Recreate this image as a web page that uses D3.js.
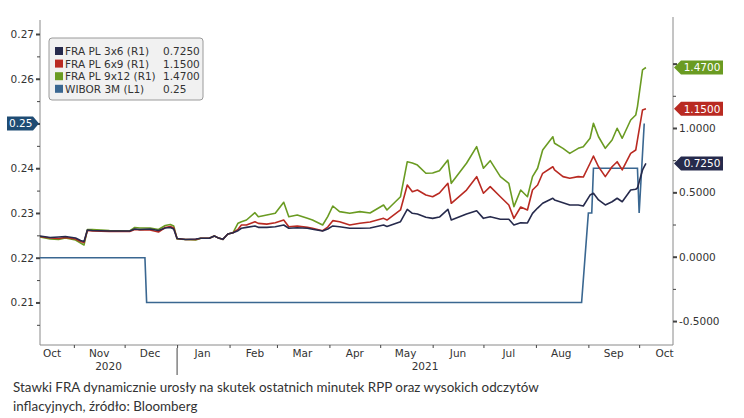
<!DOCTYPE html>
<html>
<head>
<meta charset="utf-8">
<script src="https://cdn.jsdelivr.net/npm/d3@7"></script>
<style>
  html, body { margin: 0; padding: 0; background: #fff; }
  svg { display: block; }
  .axis text { font-family: 'DejaVu Sans', sans-serif; font-size: 10.5px; fill: #333; }
  .axis .domain { stroke: #8a8a8a; }
  .axis line { stroke: #444; }
</style>
</head>
<body>
<svg id="chart" width="744" height="418"></svg>
<script>
// FRA fixings (right axis), dates shared by the three series
const dates = [
  '2020-10-12', '2020-10-18', '2020-10-23', '2020-10-27', '2020-11-02', '2020-11-05', '2020-11-07',
  '2020-11-09', '2020-11-12', '2020-11-22', '2020-12-04', '2020-12-07', '2020-12-10', '2020-12-16',
  '2020-12-21', '2020-12-25', '2020-12-28', '2020-12-30', '2021-01-01', '2021-01-06', '2021-01-12',
  '2021-01-15', '2021-01-20', '2021-01-23', '2021-01-25', '2021-01-28', '2021-01-31', '2021-02-03',
  '2021-02-06', '2021-02-08', '2021-02-11', '2021-02-16', '2021-02-18', '2021-02-23', '2021-02-28',
  '2021-03-05', '2021-03-08', '2021-03-13', '2021-03-19', '2021-03-22', '2021-03-28', '2021-03-31',
  '2021-04-03', '2021-04-07', '2021-04-13', '2021-04-19', '2021-04-25', '2021-05-03', '2021-05-05',
  '2021-05-13', '2021-05-17', '2021-05-20', '2021-05-23', '2021-05-28', '2021-06-01', '2021-06-05',
  '2021-06-10', '2021-06-12', '2021-06-21', '2021-06-27', '2021-07-01', '2021-07-05', '2021-07-11',
  '2021-07-16', '2021-07-19', '2021-07-23', '2021-07-27', '2021-07-30', '2021-08-02', '2021-08-05',
  '2021-08-11', '2021-08-12', '2021-08-17', '2021-08-21', '2021-08-26', '2021-08-29', '2021-09-02',
  '2021-09-04', '2021-09-07', '2021-09-11', '2021-09-15', '2021-09-18', '2021-09-21', '2021-09-26',
  '2021-09-29', '2021-09-30', '2021-10-03', '2021-10-05'
];
const fra3x6 = [
  0.161, 0.149, 0.153, 0.157, 0.145, 0.126, 0.118,
  0.207, 0.204, 0.200, 0.200, 0.215, 0.211, 0.215,
  0.204, 0.223, 0.227, 0.215, 0.141, 0.134, 0.138,
  0.143, 0.143, 0.161, 0.148, 0.135, 0.176, 0.186,
  0.202, 0.221, 0.228, 0.239, 0.228, 0.228, 0.233,
  0.246, 0.221, 0.225, 0.221, 0.213, 0.200, 0.215,
  0.239, 0.233, 0.221, 0.221, 0.223, 0.246, 0.235,
  0.272, 0.368, 0.337, 0.332, 0.306, 0.298, 0.308,
  0.368, 0.285, 0.332, 0.357, 0.298, 0.311, 0.291,
  0.291, 0.246, 0.264, 0.262, 0.337, 0.378, 0.415,
  0.454, 0.441, 0.420, 0.402, 0.402, 0.394, 0.479,
  0.493, 0.441, 0.402, 0.427, 0.454, 0.427, 0.518,
  0.524, 0.534, 0.674, 0.725
];
const fra6x9 = [
  0.157, 0.145, 0.141, 0.149, 0.138, 0.118, 0.110,
  0.204, 0.200, 0.196, 0.196, 0.211, 0.207, 0.207,
  0.192, 0.227, 0.235, 0.223, 0.141, 0.134, 0.134,
  0.143, 0.143, 0.161, 0.148, 0.135, 0.176, 0.186,
  0.213, 0.246, 0.246, 0.272, 0.259, 0.253, 0.264,
  0.285, 0.233, 0.239, 0.228, 0.221, 0.202, 0.230,
  0.280, 0.272, 0.246, 0.260, 0.270, 0.298, 0.285,
  0.363, 0.557, 0.505, 0.518, 0.479, 0.466, 0.495,
  0.570, 0.415, 0.518, 0.622, 0.493, 0.544, 0.466,
  0.402, 0.298, 0.386, 0.363, 0.518, 0.557, 0.648,
  0.699, 0.674, 0.622, 0.609, 0.622, 0.619, 0.726,
  0.782, 0.699, 0.622, 0.699, 0.738, 0.674, 0.803,
  0.829, 0.907, 1.140, 1.150
];
const fra9x12 = [
  0.153, 0.138, 0.134, 0.145, 0.130, 0.106, 0.091,
  0.211, 0.211, 0.204, 0.200, 0.227, 0.223, 0.223,
  0.211, 0.242, 0.250, 0.239, 0.138, 0.134, 0.130,
  0.143, 0.143, 0.161, 0.148, 0.135, 0.176, 0.186,
  0.260, 0.272, 0.285, 0.342, 0.311, 0.324, 0.337,
  0.423, 0.311, 0.324, 0.298, 0.285, 0.246, 0.311,
  0.394, 0.350, 0.337, 0.350, 0.340, 0.402, 0.363,
  0.466, 0.738, 0.728, 0.712, 0.648, 0.650, 0.668,
  0.751, 0.570, 0.726, 0.855, 0.687, 0.746, 0.622,
  0.570, 0.389, 0.518, 0.466, 0.622, 0.687, 0.829,
  0.932, 0.881, 0.842, 0.803, 0.842, 0.855, 0.920,
  1.037, 0.932, 0.842, 0.907, 0.998, 0.920, 1.062,
  1.101, 1.166, 1.451, 1.470
];

// WIBOR 3M (left axis)
const wiborDates = ['2020-10-12', '2020-12-13', '2020-12-14', '2021-08-28', '2021-09-01', '2021-09-03',
  '2021-09-04', '2021-09-30', '2021-10-01', '2021-10-04'];
const wibor3m = [0.22, 0.22, 0.21, 0.21, 0.23, 0.23, 0.24, 0.24, 0.23, 0.25];

const seriesNames = ['FRA PL 3x6 (R1)', 'FRA PL 6x9 (R1)', 'FRA PL 9x12 (R1)', 'WIBOR 3M (L1)'];
const lastValues = ['0.7250', '1.1500', '1.4700', '0.25'];
const colors = ['#262a4c', '#b92a22', '#6a9b22', '#3a6791'];

// ticks whose labels sit under an end-value tag are left unlabelled
const leftTicks = [0.21, 0.22, 0.23, 0.24, 0.25, 0.26, 0.27];
const leftMinor = [0.205, 0.215, 0.225, 0.235, 0.245, 0.255, 0.265];
const rightTicks = [-0.5, 0, 0.5, 1.0, 1.5];
const rightMinor = [-0.25, 0.25, 0.75, 1.25];
const monthLabels = ['Oct', 'Nov', 'Dec', 'Jan', 'Feb', 'Mar', 'Apr', 'May', 'Jun', 'Jul', 'Aug', 'Sep', 'Oct'];
const yearLabels = ['2020', '2021'];

const caption = [
  'Stawki FRA dynamicznie urosły na skutek ostatnich minutek RPP oraz wysokich odczytów',
  'inflacyjnych, źródło: Bloomberg'
];

const parse = d3.timeParse('%Y-%m-%d');
const svg = d3.select('#chart');
const margin = { left: 40, right: 71, top: 20, bottom: 73 };
const W = 744, H = 418;
const x0 = margin.left, x1 = W - margin.right;
const yTop = margin.top, yBot = H - margin.bottom;

const x = d3.scaleTime().domain([parse('2020-10-12'), parse('2021-10-21')]).range([x0, x1]);
const yL = d3.scaleLinear().domain([0.20049, 0.27313]).range([yBot, yTop]);
const yR = d3.scaleLinear().domain([-0.686, 1.839]).range([yBot, yTop]);

const lastWibor = wibor3m[wibor3m.length - 1];
const lastFra = [fra3x6, fra6x9, fra9x12].map((s) => s[s.length - 1]);

// left axis
const fmtL = (d) => (Math.abs(d - lastWibor) < 1e-9 ? '' : d3.format('.2f')(d));
const leftAxis = svg.append('g').attr('class', 'axis').attr('transform', `translate(${x0},0)`);
leftAxis.call(d3.axisLeft(yL).tickValues(leftTicks).tickFormat(fmtL).tickSize(4).tickSizeOuter(0).tickPadding(2));
leftAxis.selectAll('.tick line').attr('stroke-width', 2);
leftAxis.append('g').call(d3.axisLeft(yL).tickValues(leftMinor).tickFormat('').tickSize(3).tickSizeOuter(0))
  .call((g) => g.select('.domain').remove());
leftAxis.select('.domain').attr('d', `M0,${yTop}V${yBot}`);

// right axis
const fmtR = (d) => {
  const hidden = lastFra.some((v) => Math.abs(yR(v) - yR(d)) < 9);
  return hidden ? '' : d3.format('.4f')(d).replace('\u2212', '-');
};
const rightAxis = svg.append('g').attr('class', 'axis').attr('transform', `translate(${x1},0)`);
rightAxis.call(d3.axisRight(yR).tickValues(rightTicks).tickFormat(fmtR).tickSize(4).tickSizeOuter(0).tickPadding(2));
rightAxis.selectAll('.tick line').attr('stroke-width', 2);
rightAxis.append('g').call(d3.axisRight(yR).tickValues(rightMinor).tickFormat('').tickSize(3).tickSizeOuter(0))
  .call((g) => g.select('.domain').remove());
rightAxis.select('.domain').attr('d', `M0,${yTop - 3}V${yBot}`);

// bottom axis: month boundaries
const monthStarts = d3.timeMonth.range(parse('2020-10-13'), parse('2021-10-21'));
const bottomAxis = svg.append('g').attr('class', 'axis').attr('transform', `translate(0,${yBot})`);
bottomAxis.call(d3.axisBottom(x).tickValues(monthStarts).tickFormat('').tickSize(3).tickSizeOuter(0));
bottomAxis.select('.domain').attr('d', `M${x0},0H${x1}`);

const monthMids = monthLabels.map((m, i) => d3.timeDay.offset(d3.timeMonth.offset(parse('2020-10-01'), i), 15));
bottomAxis.selectAll('.mlabel')
  .data(monthLabels)
  .enter()
  .append('text')
  .attr('class', 'mlabel')
  .attr('x', (d, i) => Math.max(x(monthMids[i]), x0 + 12))
  .attr('y', 12)
  .attr('text-anchor', 'middle')
  .text((d) => d);

const jan1 = parse('2021-01-01');
bottomAxis.append('line')
  .attr('x1', x(jan1)).attr('x2', x(jan1))
  .attr('y1', 3).attr('y2', 30)
  .attr('stroke', '#aaa');
const yearCenters = [(x0 + x(jan1)) / 2, (x(jan1) + x1) / 2];
bottomAxis.selectAll('.ylabel')
  .data(yearLabels)
  .enter()
  .append('text')
  .attr('class', 'ylabel')
  .attr('x', (d, i) => yearCenters[i])
  .attr('y', 25)
  .attr('text-anchor', 'middle')
  .text((d) => d);

// lines
const lineR = d3.line().x((d) => x(d.date)).y((d) => yR(d.v));
const lineL = d3.line().x((d) => x(d.date)).y((d) => yL(d.v));
const fraSeries = [fra3x6, fra6x9, fra9x12];
const plot = svg.append('g').attr('class', 'data-container');

plot.append('path')
  .datum(wiborDates.map((d, i) => ({ date: parse(d), v: wibor3m[i] })))
  .attr('fill', 'none')
  .attr('stroke', colors[3])
  .attr('stroke-width', 1.6)
  .attr('d', lineL);

[2, 1, 0].forEach((k) => {
  plot.append('path')
    .datum(dates.map((d, i) => ({ date: parse(d), v: fraSeries[k][i] })))
    .attr('fill', 'none')
    .attr('stroke', colors[k])
    .attr('stroke-width', 1.6)
    .attr('stroke-linejoin', 'round')
    .attr('d', lineR);
});

// end-value tags, right side
const tagFont = 'font-family:"DejaVu Sans",sans-serif;font-size:10.5px';
[0, 1, 2].forEach((k) => {
  const yc = yR(lastFra[k]);
  const tx = x1 + 1;
  svg.append('path')
    .attr('d', `M${tx},${yc}L${tx + 7},${yc - 7}H${tx + 49}V${yc + 7}H${tx + 7}Z`)
    .attr('fill', colors[k]);
  svg.append('text')
    .attr('x', tx + 28).attr('y', yc + 4)
    .attr('text-anchor', 'middle')
    .attr('fill', '#fff')
    .attr('style', tagFont)
    .text(lastValues[k]);
});

// end-value tag, left side
{
  const yc = yL(lastWibor);
  svg.append('path')
    .attr('d', `M${x0 - 1},${yc}L${x0 - 7},${yc - 7}H7V${yc + 7}H${x0 - 7}Z`)
    .attr('fill', '#1f4c74');
  svg.append('text')
    .attr('x', 9).attr('y', yc + 4)
    .attr('fill', '#fff')
    .attr('style', tagFont)
    .text(lastValues[3]);
}

// legend
const legend = svg.append('g').attr('transform', 'translate(49,38)');
legend.append('rect')
  .attr('width', 154).attr('height', 62).attr('rx', 3)
  .attr('fill', '#f1f1f1').attr('stroke', '#9a9a9a');
const rows = legend.selectAll('.row')
  .data(seriesNames)
  .enter()
  .append('g')
  .attr('transform', (d, i) => `translate(0,${13 + i * 12.6})`);
rows.append('rect')
  .attr('x', 6).attr('y', -4).attr('width', 8).attr('height', 8)
  .attr('fill', (d, i) => colors[i]);
rows.append('text')
  .attr('x', 16).attr('y', 4)
  .attr('fill', '#333').attr('style', tagFont)
  .text((d) => d);
rows.append('text')
  .attr('x', 114).attr('y', 4)
  .attr('fill', '#333').attr('style', tagFont)
  .text((d, i) => lastValues[i]);

// caption
svg.selectAll('.caption')
  .data(caption)
  .enter()
  .append('text')
  .attr('x', 13)
  .attr('y', (d, i) => 392 + i * 19)
  .attr('fill', '#333')
  .attr('style', 'font-family:Lato,"Open Sans",sans-serif;font-size:13.4px')
  .text((d) => d);
</script>
</body>
</html>
